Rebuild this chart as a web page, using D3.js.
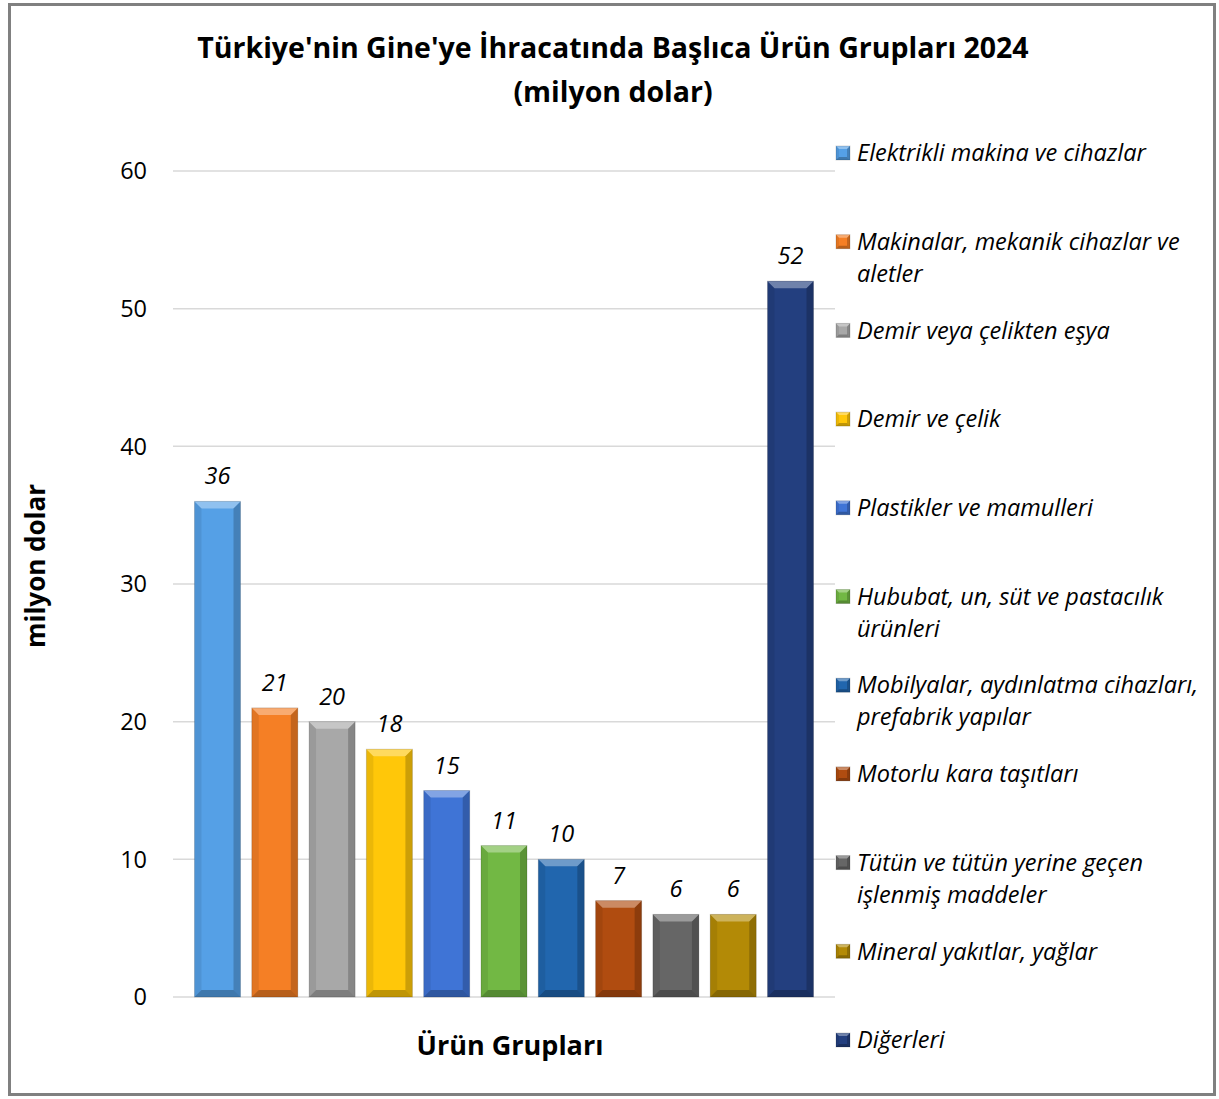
<!DOCTYPE html>
<html lang="tr">
<head>
<meta charset="UTF-8">
<script src="https://d3js.org/d3.v7.min.js"></script>
<style>
  body { margin: 0; background: #fff; }
  text { font-family: "Open Sans", sans-serif; }
</style>
</head>
<body>
<div id="chart"></div>
<script>
// data
var categories = [
    "Elektrikli makina ve cihazlar",
    "Makinalar, mekanik cihazlar ve aletler",
    "Demir veya çelikten eşya",
    "Demir ve çelik",
    "Plastikler ve mamulleri",
    "Hububat, un, süt ve pastacılık ürünleri",
    "Mobilyalar, aydınlatma cihazları, prefabrik yapılar",
    "Motorlu kara taşıtları",
    "Tütün ve tütün yerine geçen işlenmiş maddeler",
    "Mineral yakıtlar, yağlar",
    "Diğerleri"
];
var values = [36, 21, 20, 18, 15, 11, 10, 7, 6, 6, 52];
// legend text split into lines as in the picture
var legendLines = [
    ["Elektrikli makina ve cihazlar"],
    ["Makinalar, mekanik cihazlar ve", "aletler"],
    ["Demir veya çelikten eşya"],
    ["Demir ve çelik"],
    ["Plastikler ve mamulleri"],
    ["Hububat, un, süt ve pastacılık", "ürünleri"],
    ["Mobilyalar, aydınlatma cihazları,", "prefabrik yapılar"],
    ["Motorlu kara taşıtları"],
    ["Tütün ve tütün yerine geçen", "işlenmiş maddeler"],
    ["Mineral yakıtlar, yağlar"],
    ["Diğerleri"]
];
var colors = ["#55a0e6", "#f57f25", "#a8a8a8", "#ffc709", "#3f74d6", "#72b844",
    "#2166ae", "#b04c10", "#666666", "#b38a06", "#233f7f"];
var yTicks = [0, 10, 20, 30, 40, 50, 60];

var W = 1219, H = 1099;
var svg = d3.select("#chart").append("svg")
    .attr("width", W).attr("height", H);

// outer frame
svg.append("rect")
    .attr("x", 9.5).attr("y", 4.5)
    .attr("width", 1205).attr("height", 1090)
    .attr("fill", "#fff").attr("stroke", "#808080").attr("stroke-width", 3);

var plot = { left: 173, right: 835, top: 171, bottom: 997 };

var y = d3.scaleLinear().domain([0, 60]).range([plot.bottom, plot.top]);
var x = d3.scaleBand()
    .domain(d3.range(categories.length))
    .range([plot.left, plot.right])
    .paddingInner(0.197)
    .paddingOuter(0.375);

// gridlines
svg.append("g").selectAll("line")
    .data(yTicks)
    .enter().append("line")
    .attr("x1", plot.left).attr("x2", plot.right)
    .attr("y1", function (d) { return y(d); })
    .attr("y2", function (d) { return y(d); })
    .attr("stroke", "#d9d9d9").attr("stroke-width", 1.5);

// y tick labels
svg.append("g").selectAll("text")
    .data(yTicks)
    .enter().append("text")
    .attr("x", 147)
    .attr("y", function (d) { return y(d); })
    .attr("dy", "0.35em")
    .attr("text-anchor", "end")
    .attr("font-size", "23.5px")
    .attr("fill", "#000")
    .text(function (d) { return d; });

// bevelled bar
function bevel(g, bx, by, bw, bh, col, b) {
    g.append("rect").attr("x", bx).attr("y", by).attr("width", bw).attr("height", bh)
        .attr("fill", col);
    var pts = function (a) { return a.map(function (p) { return p.join(","); }).join(" "); };
    g.append("polygon")
        .attr("points", pts([[bx, by], [bx + bw, by], [bx + bw - b, by + b], [bx + b, by + b]]))
        .attr("fill", "#fff").attr("fill-opacity", 0.35);
    g.append("polygon")
        .attr("points", pts([[bx, by], [bx + b, by + b], [bx + b, by + bh - b], [bx, by + bh]]))
        .attr("fill", "#000").attr("fill-opacity", 0.08);
    g.append("polygon")
        .attr("points", pts([[bx + bw, by], [bx + bw - b, by + b], [bx + bw - b, by + bh - b], [bx + bw, by + bh]]))
        .attr("fill", "#000").attr("fill-opacity", 0.2);
    g.append("polygon")
        .attr("points", pts([[bx, by + bh], [bx + b, by + bh - b], [bx + bw - b, by + bh - b], [bx + bw, by + bh]]))
        .attr("fill", "#000").attr("fill-opacity", 0.25);
    g.append("rect").attr("x", bx).attr("y", by).attr("width", bw).attr("height", bh)
        .attr("fill", "none").attr("stroke", "#000").attr("stroke-opacity", 0.15);
}

var bars = svg.append("g");
values.forEach(function (v, i) {
    bevel(bars.append("g"), x(i), y(v), x.bandwidth(), y(0) - y(v), colors[i], 7);
});

// value labels
svg.append("g").selectAll("text")
    .data(values)
    .enter().append("text")
    .attr("x", function (d, i) { return x(i) + x.bandwidth() / 2; })
    .attr("y", function (d) { return y(d) - 17; })
    .attr("text-anchor", "middle")
    .attr("font-size", "23.5px")
    .attr("font-style", "italic")
    .attr("fill", "#000")
    .text(function (d) { return d; });

// titles
var title = svg.append("text")
    .attr("x", 613).attr("text-anchor", "middle")
    .attr("font-size", "28.5px").attr("font-weight", "bold");
title.append("tspan").attr("x", 613).attr("y", 58)
    .text("Türkiye'nin Gine'ye İhracatında Başlıca Ürün Grupları 2024");
title.append("tspan").attr("x", 613).attr("y", 102).text("(milyon dolar)");

svg.append("text")
    .attr("transform", "translate(45,566) rotate(-90)")
    .attr("text-anchor", "middle")
    .attr("font-size", "26px").attr("font-weight", "bold")
    .text("milyon dolar");

svg.append("text")
    .attr("x", 510).attr("y", 1055)
    .attr("text-anchor", "middle")
    .attr("font-size", "27px").attr("font-weight", "bold")
    .text("Ürün Grupları");

// legend
var ly = d3.scaleLinear().domain([0, 10]).range([153, 1040]);
var legend = svg.append("g");
legendLines.forEach(function (lines, i) {
    var g = legend.append("g");
    bevel(g, 836, ly(i) - 7, 14, 14, colors[i], 3);
    lines.forEach(function (t, k) {
        g.append("text")
            .attr("x", 857)
            .attr("y", ly(i) + k * 32)
            .attr("dy", "0.35em")
            .attr("font-size", "23.5px")
            .attr("font-style", "italic")
            .text(t);
    });
});
</script>
</body>
</html>
